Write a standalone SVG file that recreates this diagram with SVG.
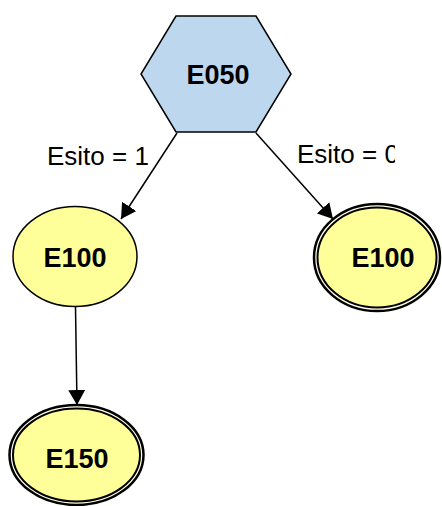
<svg xmlns="http://www.w3.org/2000/svg" width="442" height="506" viewBox="0 0 442 506">
<style>
.lbl{font-family:"Liberation Sans",Arial,sans-serif;font-weight:bold;font-size:27px;fill:#000;text-anchor:middle;dominant-baseline:central}
.elbl{font-family:"Liberation Sans",Arial,sans-serif;font-size:26px;fill:#000}
.edge{stroke:#000;stroke-width:1.5;fill:none;marker-end:url(#arr)}
.yel{fill:#FFFF99}
</style>
<defs>
<marker id="arr" markerUnits="userSpaceOnUse" markerWidth="15" markerHeight="17" refX="15" refY="8.5" orient="auto">
<path d="M0,0 L15,8.5 L0,17 z" fill="#000"/>
</marker>
<clipPath id="clipR"><rect x="0" y="0" width="395" height="506"/></clipPath>
</defs>
<rect width="442" height="506" fill="#fff"/>
<g id="connectors">
<line class="edge" x1="177" y1="133" x2="121" y2="219"/>
<line class="edge" x1="256" y1="133" x2="333" y2="219"/>
<line class="edge" x1="75.5" y1="307" x2="77" y2="405"/>
<text class="elbl" x="47" y="165">Esito = 1</text>
<text class="elbl" x="297" y="163" clip-path="url(#clipR)">Esito = 0</text>
</g>
<g id="E050">
<polygon points="176,16 256,16 291,74 256,132 176,132 141,74" fill="#BDD7EE" stroke="#000" stroke-width="1.5"/>
<text class="lbl" x="218" y="75">E050</text>
</g>
<g id="E100a">
<ellipse cx="75" cy="256.5" rx="62" ry="50" class="yel" stroke="#000" stroke-width="1.5"/>
<text class="lbl" x="75" y="258">E100</text>
</g>
<g id="E100b">
<ellipse cx="377" cy="257.5" rx="63" ry="53.5" fill="#FFFFE8" stroke="#000" stroke-width="2.5"/>
<ellipse cx="377" cy="257.5" rx="59.5" ry="50" class="yel" stroke="#000" stroke-width="2"/>
<text class="lbl" x="383" y="258">E100</text>
</g>
<g id="E150">
<ellipse cx="76.5" cy="455" rx="67" ry="50" fill="#FFFFE8" stroke="#000" stroke-width="2.5"/>
<ellipse cx="76.5" cy="455" rx="63.5" ry="46.5" class="yel" stroke="#000" stroke-width="2"/>
<text class="lbl" x="77" y="459">E150</text>
</g>
</svg>
